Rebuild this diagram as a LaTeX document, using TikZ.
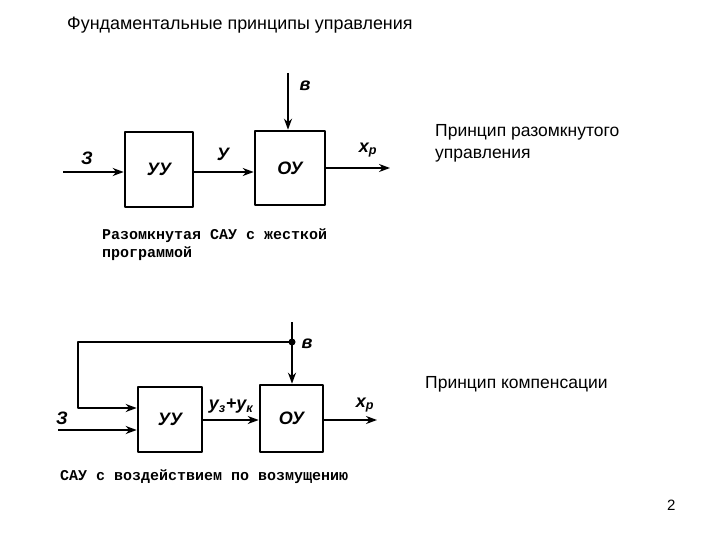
\documentclass[tikz,border=0pt]{standalone}
\usepackage{fontspec}
\setmainfont{Liberation Sans}
\newfontfamily\scanfont{Liberation Mono}
\usetikzlibrary{arrows.meta}
\tikzset{
  every picture/.style={line join=round, >={Stealth[length=11pt,width=8pt]}},
  block/.style={draw, line width=2.6pt, inner sep=0pt},
  sig/.style={line width=2.8pt, ->},
  lbl/.style={font=\fontsize{18}{20}\selectfont\bfseries\itshape},
  caption/.style={font=\fontsize{15}{18}\selectfont\scanfont\bfseries, anchor=base west, inner sep=0pt},
  slide/.style={font=\fontsize{17.5}{22}\selectfont, anchor=base west, inner sep=0pt, align=left},
}

\begin{document}
\begin{tikzpicture}[x=1pt, y=-1pt]
\useasboundingbox (0,0) rectangle (720,540);

% heading
\node[slide, font=\fontsize{17.9}{22}\selectfont] (title) at (67,30) {Фундаментальные принципы управления};

% open loop system
\node[block, minimum width=68pt, minimum height=75pt, lbl] (uu1) at (159,169.5) {УУ};
\node[block, minimum width=70pt, minimum height=74pt, lbl] (ou1) at (290,168) {ОУ};
\coordinate (z1) at (63,172);
\coordinate (v1) at (288,73);
\coordinate (x1) at (390,168);
\draw[sig] (z1) -- (z1 -| uu1.west);
\draw[sig] (uu1.east |- z1) -- (ou1.west |- z1);
\draw[sig] (v1) -- (v1 |- ou1.north);
\draw[sig] (ou1.east) -- (x1);
\node[lbl] (z1lbl) at (87,158) {З};
\node[lbl] (ulbl) at (223,154) {У};
\node[lbl] (v1lbl) at (305,86) {в};
\node[lbl] (x1lbl) at (368,150) {x\textsubscript{р}};
\node[caption] (cap1) at (102,240) {Разомкнутая САУ с жесткой};
\node[caption] (cap1b) at (102,258) {программой};
\node[slide] (open) at (435,159) {Принцип разомкнутого\\управления};

% compensation
\node[block, minimum width=64pt, minimum height=65pt, lbl] (uu2) at (170,419.5) {УУ};
\node[block, minimum width=63pt, minimum height=67pt, lbl] (ou2) at (291.5,418.5) {ОУ};
\coordinate (v2) at (292,322);
\coordinate (j) at (292,342);
\coordinate (fb) at (78,408);
\coordinate (z2) at (58,430);
\coordinate (x2) at (377,420);
\draw[sig] (v2) -- (v2 |- ou2.north);
\fill (j) circle (3.5);
\draw[sig] (j) -| (fb) -- (fb -| uu2.west);
\draw[sig] (z2) -- (z2 -| uu2.west);
\draw[sig] (uu2.east |- x2) -- (ou2.west |- x2);
\draw[sig] (ou2.east |- x2) -- (x2);
\node[lbl] (z2lbl) at (62,418) {З};
\node[lbl] (v2lbl) at (307,344) {в};
\node[lbl] (sumlbl) at (231,406) {у\textsubscript{з}+у\textsubscript{к}};
\node[lbl] (x2lbl) at (365,405) {x\textsubscript{р}};
\node[caption] (cap2) at (60,480) {САУ с воздействием по возмущению};
\node[slide] (comp) at (425,388) {Принцип компенсации};

% page number
\node[slide, font=\fontsize{15}{18}\selectfont] (page) at (667,510) {2};
\end{tikzpicture}
\end{document}
